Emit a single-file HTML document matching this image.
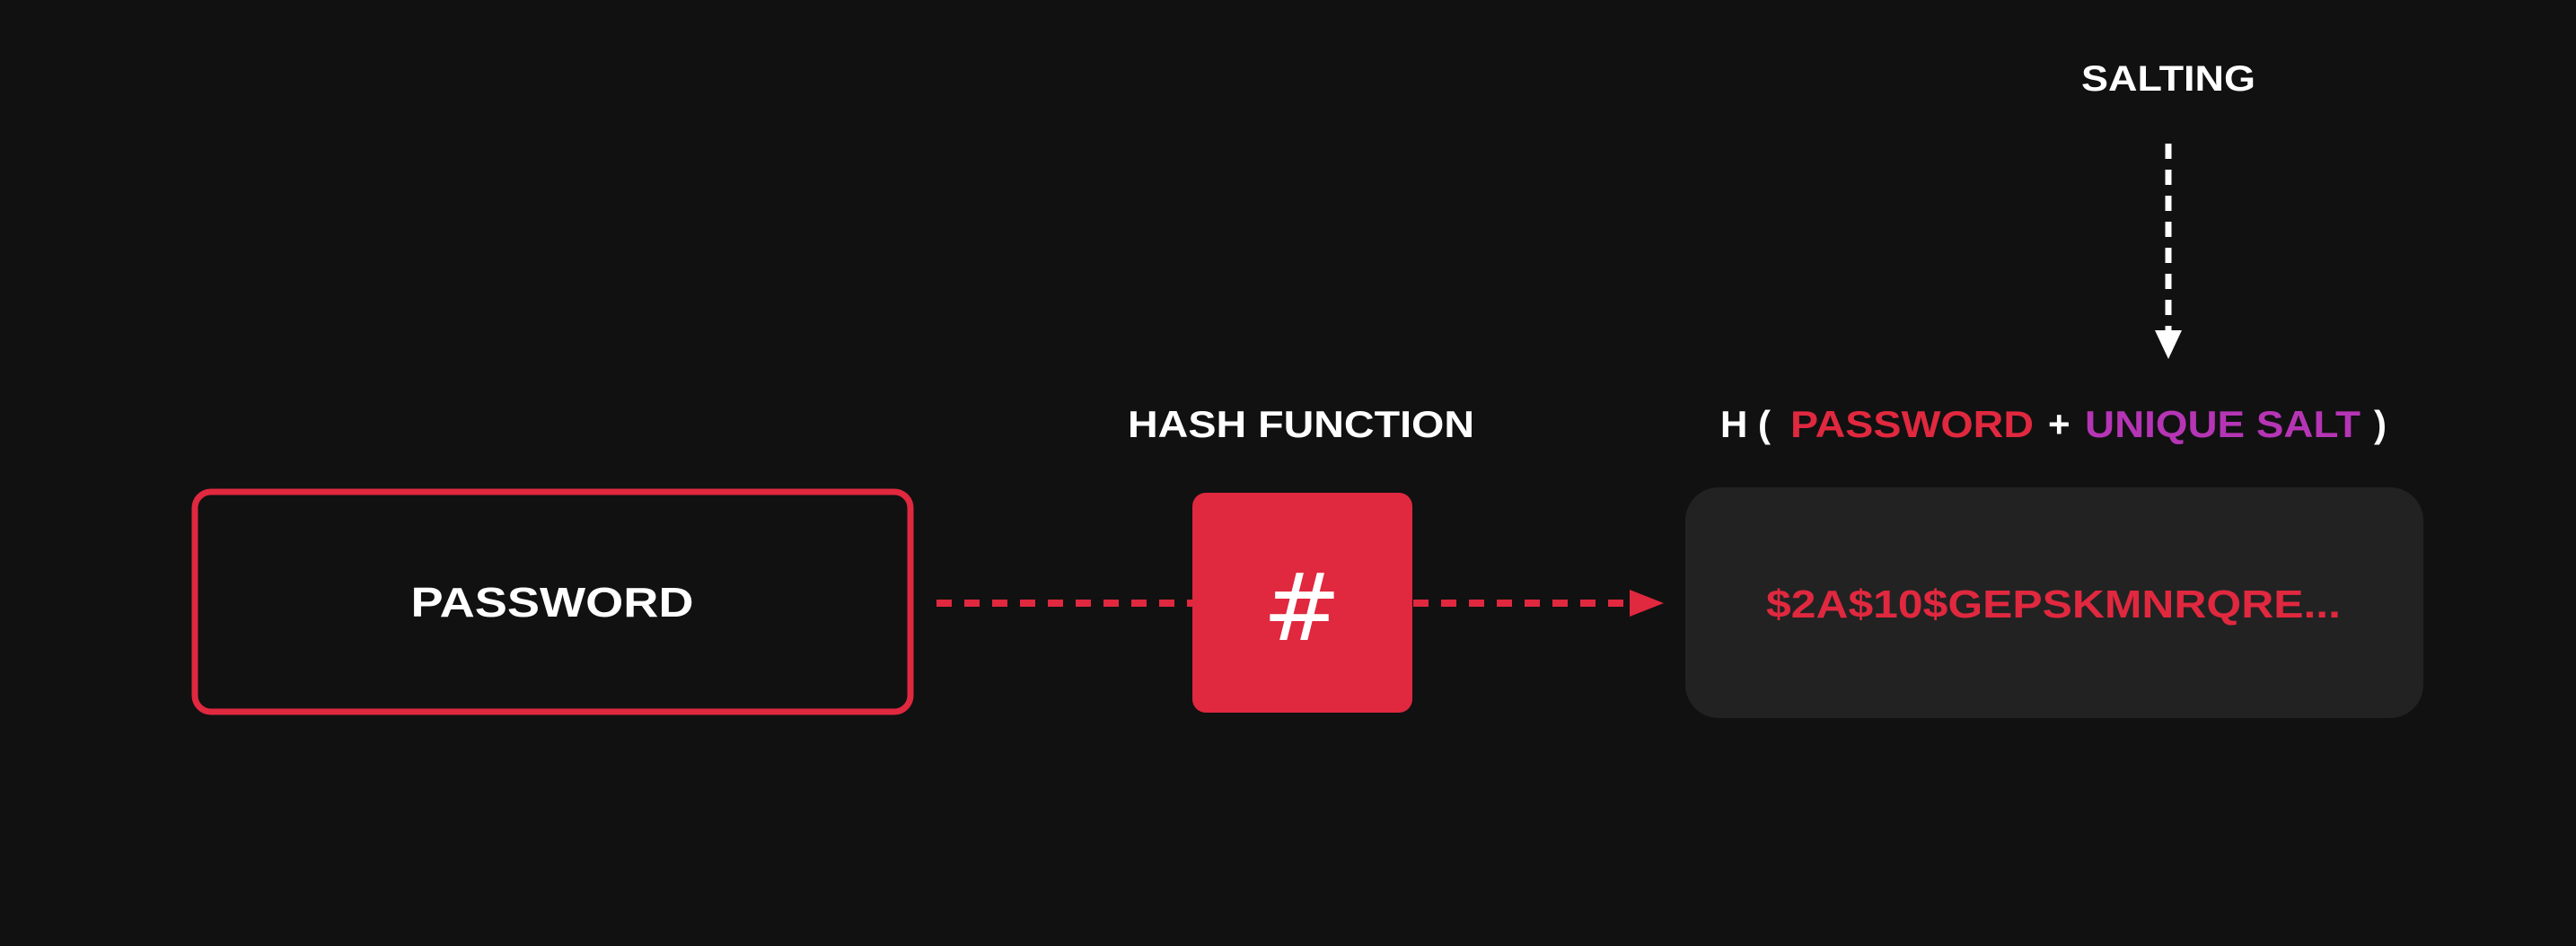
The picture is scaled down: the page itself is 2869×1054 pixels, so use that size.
<!DOCTYPE html>
<html><head><meta charset="utf-8"><style>
html,body{margin:0;padding:0;background:#111111;}
svg{display:block;}
text{font-family:"Liberation Sans",sans-serif;font-weight:bold;}
</style></head><body>
<svg width="2869" height="1054" viewBox="0 0 2869 1054" xmlns="http://www.w3.org/2000/svg">
<rect width="2869" height="1054" fill="#111111"/>
<!-- password box -->
<rect x="217" y="548" width="797" height="245" rx="18" fill="#111111" stroke="#e0283f" stroke-width="7"/>
<text x="615" y="687" font-size="46" fill="#ffffff" text-anchor="middle" textLength="315" lengthAdjust="spacingAndGlyphs">PASSWORD</text>
<!-- dashed connectors -->
<line x1="1043" y1="672" x2="1328" y2="672" stroke="#e0283f" stroke-width="8" stroke-dasharray="17 14"/>
<line x1="1574" y1="672" x2="1815" y2="672" stroke="#e0283f" stroke-width="8" stroke-dasharray="17 14"/>
<polygon points="1815,657 1853,672 1815,687" fill="#e0283f"/>
<!-- hash box -->
<text x="1449" y="487" font-size="42" fill="#ffffff" text-anchor="middle" textLength="386" lengthAdjust="spacingAndGlyphs">HASH FUNCTION</text>
<rect x="1328" y="549" width="245" height="245" rx="15" fill="#e0283f"/>
<text x="1450" y="713" font-size="104" fill="#ffffff" text-anchor="middle" style="font-family:'DejaVu Sans',sans-serif;font-weight:normal">#</text>
<!-- salting -->
<text x="2415" y="101" font-size="40" fill="#ffffff" text-anchor="middle" textLength="194" lengthAdjust="spacingAndGlyphs">SALTING</text>
<line x1="2415" y1="160" x2="2415" y2="368" stroke="#ffffff" stroke-width="7" stroke-dasharray="17 12"/>
<polygon points="2400,368 2430,368 2415,400" fill="#ffffff"/>
<!-- formula -->
<text y="487" font-size="42" fill="#ffffff">
<tspan x="1916">H</tspan><tspan x="1958">(</tspan>
<tspan x="1994" fill="#e0283f" textLength="271" lengthAdjust="spacingAndGlyphs">PASSWORD</tspan>
<tspan x="2281">+</tspan>
<tspan x="2322" fill="#b535b5" textLength="307" lengthAdjust="spacingAndGlyphs">UNIQUE SALT</tspan>
<tspan x="2644">)</tspan>
</text>
<!-- result box -->
<rect x="1877" y="543" width="822" height="257" rx="37" fill="#222222"/>
<text x="2287" y="688" font-size="44" fill="#e0283f" text-anchor="middle" textLength="640" lengthAdjust="spacingAndGlyphs">$2A$10$GEPSKMNRQRE...</text>
</svg>
</body></html>
